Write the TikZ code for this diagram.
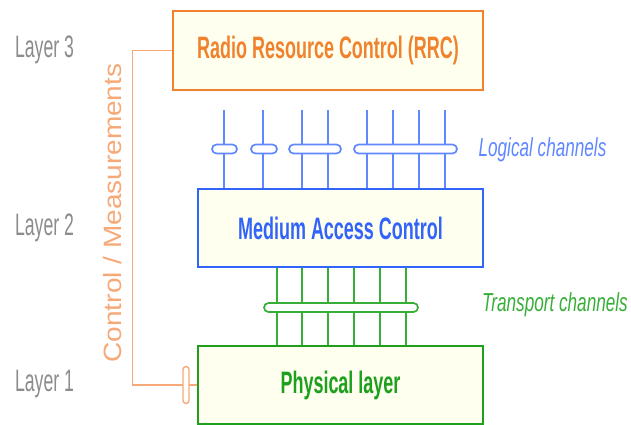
\documentclass[tikz,border=0pt]{standalone}
\usepackage{fontspec}
\setmainfont{Liberation Sans}
% condensed faces for the labels
\newfontfamily\boxfont{Liberation Sans}[FakeStretch=0.58]
\newfontfamily\layerfont{Liberation Sans}[FakeStretch=0.57]
\newfontfamily\chanfont{Liberation Sans}[FakeStretch=0.66]
\newfontfamily\sidefont{Liberation Sans}[FakeStretch=1.12]

\definecolor{rrcC}{RGB}{240,130,45}
\definecolor{ctrlC}{RGB}{246,168,118}
\definecolor{macC}{RGB}{50,100,250}
\definecolor{logC}{RGB}{95,135,255}
\definecolor{phyC}{RGB}{30,160,30}
\definecolor{trC}{RGB}{55,175,55}
\definecolor{layerC}{RGB}{140,140,140}
\definecolor{boxfill}{RGB}{255,255,240}

\tikzset{
  layerbox/.style={draw, line width=2.6pt, fill=boxfill, inner sep=0pt,
                   font=\boxfont\bfseries\fontsize{31}{31}\selectfont},
  layerlabel/.style={text=layerC, inner sep=0pt, font=\layerfont\fontsize{31}{31}\selectfont},
  chanlabel/.style={inner sep=0pt, font=\chanfont\itshape\fontsize{26}{26}\selectfont},
  lchan/.style={draw=logC, line width=1.4pt},
  tchan/.style={draw=trC, line width=1.4pt},
  pill/.style={rectangle, rounded corners=4.5pt, fill=white, line width=1.7pt,
               minimum height=9pt, inner sep=0pt},
}

\begin{document}
\begin{tikzpicture}[x=1pt, y=-1pt]
\useasboundingbox (0,0) rectangle (631,424);

% protocol layers
\node[layerbox, draw=rrcC, text=rrcC, minimum width=310pt, minimum height=79pt]
  (rrc) at (328,50.5) {Radio Resource Control (RRC)};
\node[layerbox, draw=macC, text=macC, minimum width=285pt, minimum height=78pt]
  (mac) at (340.5,228) {Medium Access Control};
\node[layerbox, draw=phyC, text=phyC, minimum width=285pt, minimum height=78pt]
  (phy) at (340.5,385) {Physical layer};

% layer numbers
\node[layerlabel] (l3) at (44.5,50) {Layer 3};
\node[layerlabel] (l2) at (44.5,228) {Layer 2};
\node[layerlabel] (l1) at (44.5,384) {Layer 1};

% logical channels between RRC and MAC
\foreach \x [count=\i] in {224,263,302,328,367,393,419,445} {
  \coordinate (lc\i) at (\x,110);
  \draw[lchan] (lc\i) -- (lc\i |- mac.north);
}
\node[pill, draw=logC, minimum width=25pt]  (lp1) at (224.5,149) {};
\node[pill, draw=logC, minimum width=26pt]  (lp2) at (264,149) {};
\node[pill, draw=logC, minimum width=52pt]  (lp3) at (315,149) {};
\node[pill, draw=logC, minimum width=103pt] (lp4) at (405.5,149) {};
\node[chanlabel, text=logC] (lclab) at (542.5,150) {Logical channels};

% transport channels between MAC and PHY
\foreach \x [count=\i] in {277,302,328,354,380,406} {
  \coordinate (tc\i) at (\x,0 |- mac.south);
  \draw[tchan] (tc\i) -- (tc\i |- phy.north);
}
\node[pill, draw=trC, minimum width=154pt] (tp) at (341,307.5) {};
\node[chanlabel, text=trC] (tclab) at (555,305) {Transport channels};

% control / measurements path from RRC to PHY
\draw[draw=ctrlC, line width=1.4pt] (rrc.west) -- ++(-39,0) |- (phy.west);
\node[pill, draw=ctrlC, rounded corners=3pt, minimum width=6pt, minimum height=37pt,
      line width=1.4pt] (cp) at (186,385) {};
\node[text=ctrlC, inner sep=0pt, rotate=90, font=\sidefont\fontsize{25}{25}\selectfont]
  (cm) at (113,213) {Control / Measurements};
\end{tikzpicture}
\end{document}
